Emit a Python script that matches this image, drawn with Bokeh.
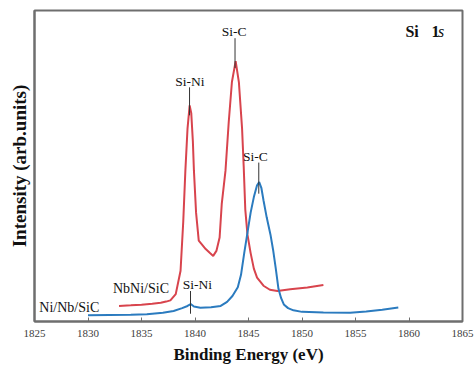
from bokeh.plotting import figure
from bokeh.models import FixedTicker, Range1d, Title
from bokeh.core.properties import value
from bokeh.embed import file_html
from bokeh.resources import INLINE

# NbNi/SiC (red) spectrum
red_energy = [1832.9, 1834.0, 1835.0, 1836.0, 1836.8, 1837.3, 1837.7, 1838.2, 1838.65,
              1838.9, 1839.1, 1839.3, 1839.5, 1839.65, 1839.8, 1839.9, 1840.1, 1840.35,
              1841.0, 1841.4, 1841.7, 1842.0, 1842.3, 1842.5, 1842.85, 1843.15, 1843.45,
              1843.8, 1844.1, 1844.4, 1844.55, 1844.7, 1844.9, 1845.2, 1845.5, 1845.8,
              1846.4, 1847.0, 1847.7, 1848.9, 1850.5, 1852.0]
red_intensity = [5.0, 5.2, 5.4, 5.7, 6.0, 6.4, 6.8, 8.8, 16.3,
                 32.0, 48.5, 62.0, 69.5, 67.0, 58.0, 48.5, 35.0, 26.0,
                 23.3, 22.0, 21.1, 22.7, 27.0, 37.8, 48.5, 64.0, 77.0,
                 83.7, 77.0, 62.0, 50.0, 36.0, 28.0, 22.0, 17.0, 14.1,
                 11.5, 10.2, 9.8, 10.4, 10.9, 11.7]

# Ni/Nb/SiC (blue) spectrum
blue_energy = [1830.0, 1832.0, 1834.0, 1835.5, 1837.0, 1838.0, 1838.8, 1839.3, 1839.6,
               1839.9, 1840.5, 1841.5, 1842.4, 1843.0, 1843.5, 1844.0, 1844.3, 1844.6,
               1844.9, 1845.2, 1845.5, 1845.8, 1846.0, 1846.2, 1846.4, 1846.7, 1847.05,
               1847.3, 1847.55, 1847.8, 1848.05, 1848.3, 1848.7, 1849.2, 1850.0, 1852.0,
               1854.5, 1856.0, 1857.5, 1859.0]
blue_intensity = [2.0, 2.1, 2.2, 2.3, 2.8, 3.4, 4.3, 5.0, 5.6,
                  4.8, 4.4, 4.6, 5.0, 6.3, 8.2, 11.0, 15.0, 22.0,
                  28.5, 35.0, 40.0, 43.8, 44.8, 43.0, 39.0, 33.5, 28.0,
                  23.0, 17.0, 10.5, 7.5, 5.5, 4.3, 3.6, 3.1, 2.9,
                  2.8, 3.2, 3.8, 4.5]

x_ticks = [1825, 1830, 1835, 1840, 1845, 1850, 1855, 1860, 1865]

# peak annotations: label, label x, label y, line x, line top, line bottom
ann_labels = ["Si-C", "Si-Ni", "Si-C", "Si-Ni"]
ann_label_x = [1843.65, 1839.53, 1845.65, 1840.23]
ann_label_y = [93.1, 77.1, 53.1, 11.8]
ann_line_x = [1843.74, 1839.49, 1845.96, 1839.58]
ann_line_top = [91.1, 75.3, 51.1, 9.8]
ann_line_bottom = [81.5, 66.3, 41.1, 2.5]

sample_labels = ["NbNi/SiC", "Ni/Nb/SiC"]
sample_x = [1834.95, 1828.25]
sample_y = [10.5, 4.4]

SERIF = "Liberation Serif"
RED = "#d8444d"
BLUE = "#2b7bbf"
FRAME = "#6e6e6e"

p = figure(width=474, height=367, output_backend="svg", toolbar_location=None, title=None,
           x_range=Range1d(1825, 1865), y_range=Range1d(0, 100),
           min_border_left=34, min_border_right=12, min_border_top=10, min_border_bottom=46)

p.line(red_energy, red_intensity, line_color=RED, line_width=2)
p.line(blue_energy, blue_intensity, line_color=BLUE, line_width=2)

p.segment(x0=ann_line_x, y0=ann_line_top, x1=ann_line_x, y1=ann_line_bottom,
          line_color="#333333", line_width=1)
p.text(x=ann_label_x, y=ann_label_y, text=ann_labels, text_align="center",
       text_baseline="middle", text_font=value(SERIF), text_font_size="13.5px",
       text_color="#111111")
p.text(x=sample_x, y=sample_y, text=sample_labels, text_align="center",
       text_baseline="middle", text_font=value(SERIF), text_font_size="14px",
       text_color="#111111")

p.text(x=[1859.67, 1862.10], y=[93.4, 93.4], text=["Si", "1"], text_align="left",
       text_baseline="middle", text_font=value(SERIF), text_font_size="16px",
       text_font_style="bold", text_color="#111111")
p.text(x=[1862.71], y=[93.4], text=["s"], text_align="left", text_baseline="middle",
       text_font=value(SERIF), text_font_size="16px", text_font_style="italic",
       text_color="#111111")

p.grid.visible = False
p.outline_line_color = FRAME
p.outline_line_width = 2
p.background_fill_color = "white"
p.border_fill_color = "white"

xa = p.xaxis[0]
xa.ticker = FixedTicker(ticks=x_ticks)
xa.axis_line_color = FRAME
xa.axis_line_width = 2
xa.major_tick_in = 4
xa.major_tick_out = 0
xa.major_tick_line_color = FRAME
xa.minor_tick_line_color = None
xa.major_label_text_font = SERIF
xa.major_label_text_font_size = "11px"
xa.major_label_text_color = "#404040"
xa.major_label_standoff = 8
xa.axis_label = "Binding Energy (eV)"
xa.axis_label_text_font = SERIF
xa.axis_label_text_font_size = "17px"
xa.axis_label_text_font_style = "bold"
xa.axis_label_text_color = "#111111"
xa.axis_label_standoff = 5

ya = p.yaxis[0]
ya.ticker = FixedTicker(ticks=[])
ya.axis_line_color = FRAME
ya.axis_line_width = 2
ya.major_tick_in = 0
ya.major_tick_out = 0
ya.minor_tick_line_color = None
ya.major_label_text_font_size = "0px"
ya.major_label_standoff = 0

p.add_layout(Title(text="Intensity (arb.units)", align="center", offset=-18,
                   text_font=SERIF, text_font_size="19px", text_font_style="bold",
                   text_color="#111111", standoff=10), "left")

open("out.html", "w").write(file_html(p, INLINE))
